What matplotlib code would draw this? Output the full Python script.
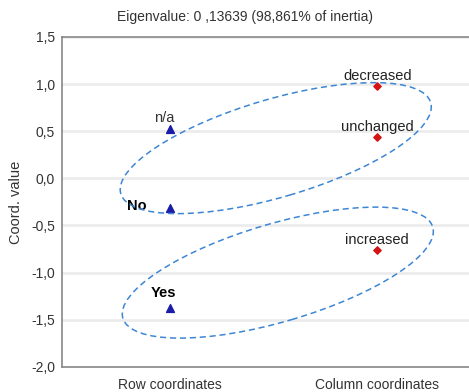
import matplotlib
matplotlib.use("Agg")
import matplotlib.pyplot as plt
from matplotlib.patches import Ellipse
from matplotlib.transforms import ScaledTranslation

plt.rcParams['font.family'] = ['Liberation Sans', 'DejaVu Sans']

# Data
groups = ["Row coordinates", "Column coordinates"]
row_labels = ["n/a", "No", "Yes"]
row_values = [0.52, -0.31, -1.38]
col_labels = ["decreased", "unchanged", "increased"]
col_values = [0.98, 0.44, -0.76]
yticks = [1.5, 1.0, 0.5, 0.0, -0.5, -1.0, -1.5, -2.0]
title = "Eigenvalue: 0 ,13639 (98,861% of inertia)"
# ellipse centres in data coordinates (x group index, y coord)
ellipse_centres = [(0.51, 0.32), (0.52, -1.0)]

fig = plt.figure(figsize=(4.69, 3.92), dpi=100)
ax = fig.add_axes([0.132, 0.064, 0.888, 0.842])
ax.set_xlim(-0.522, 1.488)
ax.set_ylim(-2.0, 1.5)

for y in yticks:
    ax.axhline(y, color='#ececec', lw=2, zorder=0)

ax.scatter([0] * len(row_values), row_values, marker='^', s=32, color='#1c1ca8', zorder=3)
ax.scatter([1] * len(col_values), col_values, marker='D', s=14, color='#d41414', zorder=3)

# row labels
ax.annotate(row_labels[0], (0, row_values[0]), xytext=(-4, 3), textcoords='offset points',
            ha='center', va='bottom', fontsize=10.5, color='#333333')
ax.annotate(row_labels[1], (0, row_values[1]), xytext=(-24, 1), textcoords='offset points',
            ha='center', va='center', fontsize=10.5, fontweight='bold', color='black')
ax.annotate(row_labels[2], (0, row_values[2]), xytext=(-5, 6), textcoords='offset points',
            ha='center', va='bottom', fontsize=10.5, fontweight='bold', color='black')
for lab, v in zip(col_labels, col_values):
    ax.annotate(lab, (1, v), xytext=(0, 2), textcoords='offset points',
                ha='center', va='bottom', fontsize=10.5, color='#222222')

for (cx, cy) in ellipse_centres:
    e = Ellipse((0, 0), 323, 98, angle=16.4, fill=False, ls=(0, (4, 2.5)),
                lw=1.1, edgecolor='#3d86d4',
                transform=ScaledTranslation(cx, cy, ax.transData), zorder=4)
    ax.add_patch(e)

ax.set_xticks([0, 1])
ax.set_xticklabels(groups, fontsize=10, color='#333333')
ax.set_yticks(yticks)
ax.set_yticklabels([f"{v:.1f}".replace('.', ',') for v in yticks], fontsize=10, color='#333333')
ax.tick_params(axis='x', length=0, pad=8)
ax.tick_params(axis='y', length=0, pad=5)
ax.set_ylabel("Coord. value", fontsize=10.5, color='#333333', labelpad=6)

for s in ['left', 'bottom', 'top']:
    ax.spines[s].set_color('#888888')
    ax.spines[s].set_linewidth(1.2)
ax.spines['right'].set_visible(False)

fig.text(0.522, 0.957, title, ha='center', va='center', fontsize=10, color='#333333')

fig.savefig("out.png", dpi=100)
